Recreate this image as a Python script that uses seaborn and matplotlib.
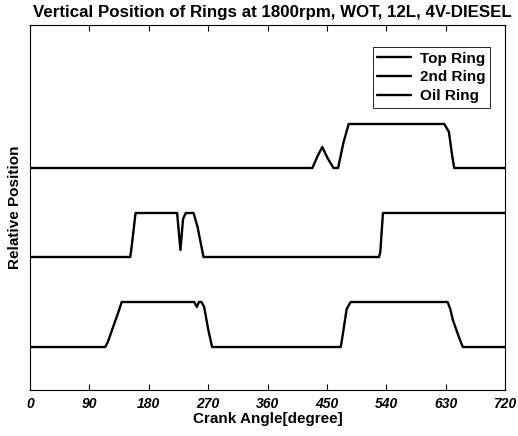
import numpy as np
import pandas as pd
import matplotlib
matplotlib.use("Agg")
import matplotlib.pyplot as plt
import seaborn as sns

# crank angle breakpoints [deg] and ring lift (relative units)
top_angle = [0, 428, 436, 443, 451, 460, 467, 475, 483, 628, 635, 640, 643, 720]
top_lift = [0, 0, 0.12, 0.21, 0.10, 0, 0, 0.25, 0.44, 0.44, 0.36, 0.12, 0, 0]

second_angle = [0, 152, 154, 160, 223, 228, 232, 236, 248, 254, 263, 529, 531, 535, 720]
second_lift = [0, 0, 0.10, 0.44, 0.44, 0.07, 0.38, 0.44, 0.44, 0.30, 0, 0, 0.05, 0.44, 0.44]

oil_angle = [0, 114, 118, 126, 133, 139, 249, 253, 256, 260, 264, 270, 276,
             471, 474, 480, 486, 633, 637, 641, 649, 656, 720]
oil_lift = [0, 0, 0.05, 0.20, 0.33, 0.45, 0.45, 0.40, 0.45, 0.45, 0.40, 0.18, 0,
            0, 0.12, 0.38, 0.45, 0.45, 0.38, 0.27, 0.12, 0, 0]

ring_names = ['Top Ring', '2nd Ring', 'Oil Ring']
ring_base = [2.22, 1.33, 0.43]  # vertical offset of each trace

frames = []
for name, base, ang, lift in zip(ring_names, ring_base,
                                 [top_angle, second_angle, oil_angle],
                                 [top_lift, second_lift, oil_lift]):
    frames.append(pd.DataFrame({'angle': ang,
                                'pos': base + np.array(lift),
                                'ring': name}))
df = pd.concat(frames, ignore_index=True)

sns.set_style('white')
plt.rcParams['font.family'] = ['Liberation Sans', 'DejaVu Sans']
plt.rcParams['text.color'] = 'black'
plt.rcParams['axes.labelcolor'] = 'black'
plt.rcParams['xtick.color'] = 'black'

fig = plt.figure(figsize=(5.18, 4.36), dpi=100)
ax = fig.add_axes([30 / 518, 1 - 390 / 436, 475 / 518, 365 / 436])

sns.lineplot(data=df, x='angle', y='pos', hue='ring', hue_order=ring_names,
             palette=['black'] * 3, estimator=None, sort=False,
             linewidth=1.7, ax=ax)

ax.set_xlim(0, 720)
ax.set_ylim(0, 3.65)
ax.set_xticks(np.arange(0, 721, 90))
ax.set_yticks([])
ax.tick_params(axis='x', direction='in', top=True, bottom=True, length=4,
               width=0.8, color='black', pad=5)
for lbl in ax.get_xticklabels():
    lbl.set_fontsize(10)
    lbl.set_fontweight('bold')
    lbl.set_fontstyle('italic')
for sp in ax.spines.values():
    sp.set_color('black')
    sp.set_linewidth(0.8)

ax.set_xlabel('Crank Angle[degree]', fontsize=11, fontweight='bold', labelpad=1)
ax.set_ylabel('Relative Position', fontsize=11, fontweight='bold', labelpad=6)
ax.set_title('Vertical Position of Rings at 1800rpm, WOT, 12L, 4V-DIESEL',
             fontsize=12.2, fontweight='bold', pad=6, x=0.51)

leg = ax.legend(loc='upper right', bbox_to_anchor=(0.985, 0.96), frameon=True,
                fancybox=False, edgecolor='black', framealpha=1,
                prop={'weight': 'bold', 'size': 11}, handlelength=2.2,
                handletextpad=0.6, labelspacing=0.3, borderpad=0.3)
leg.get_frame().set_linewidth(0.6)

fig.savefig('out.png', dpi=100)
